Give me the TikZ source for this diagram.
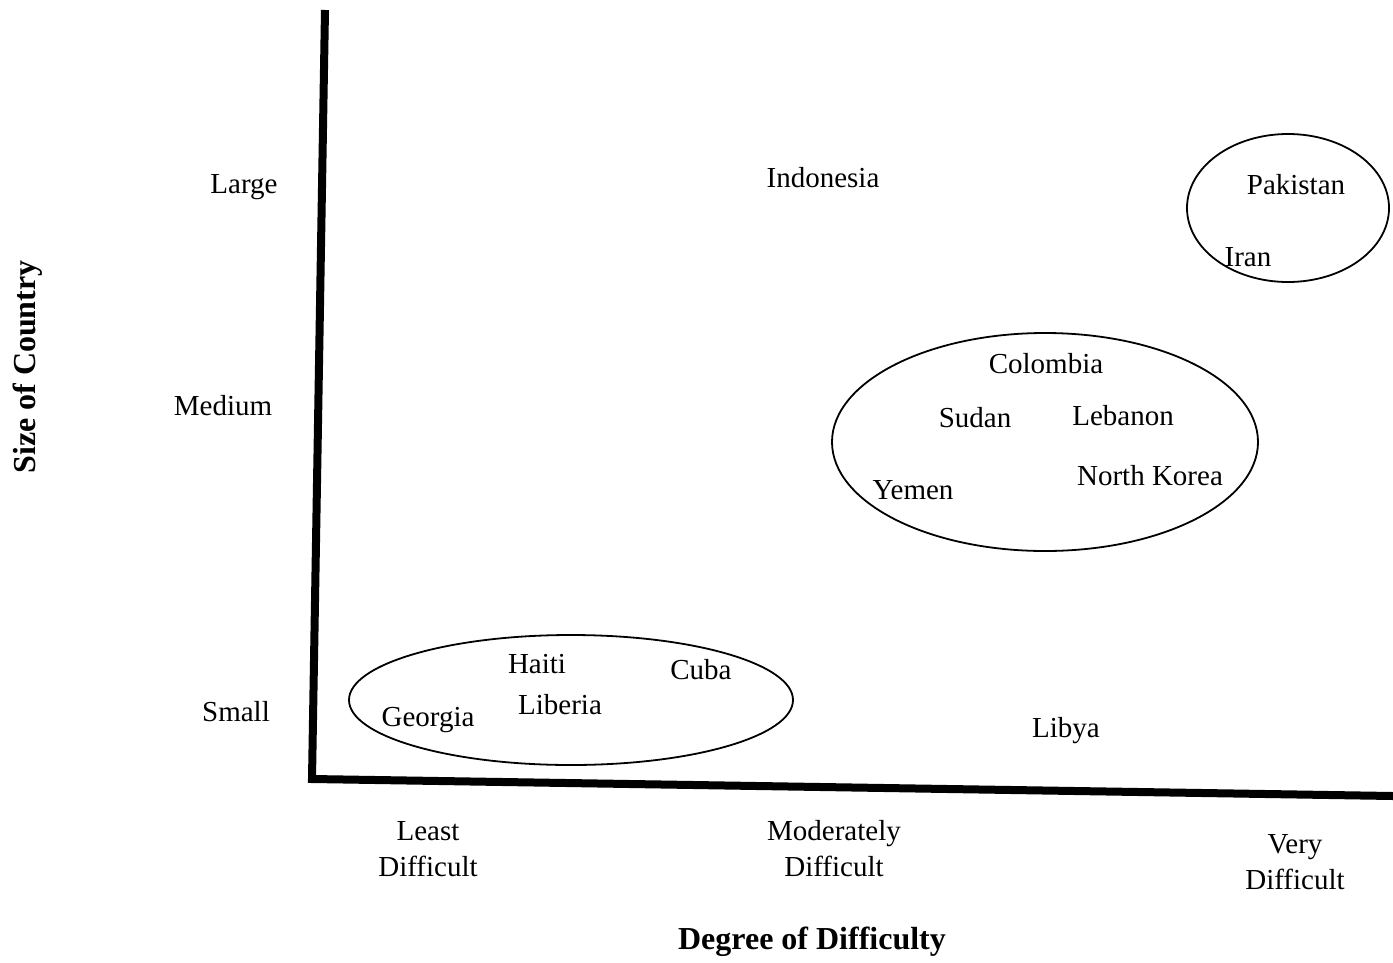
\documentclass[tikz,border=0pt]{standalone}
\usepackage{fontspec}
\setmainfont{Liberation Serif}
\usetikzlibrary{positioning}

\begin{document}
\begin{tikzpicture}[x=1pt, y=-1pt,
    lbl/.style={font=\fontsize{29}{36}\selectfont, inner sep=0pt, align=center},
    ttl/.style={font=\fontsize{32}{36}\selectfont\bfseries, inner sep=0pt},
    grp/.style={line width=1.8pt}]
\useasboundingbox (0,0) rectangle (1393,962);

\coordinate (top) at (325,10);
\coordinate (origin) at (312,779);
\coordinate (right) at (1393,796);
\draw [line width=8pt] (top) -- (origin) -- (right);

\node[lbl] (large) at (244,187) {Large};
\node[lbl] (medium) at (223,406) {Medium};
\node[lbl] (small) at (236,712) {Small};

\node[lbl] (least) at (428,849) {Least\\Difficult};
\node[lbl] (moderate) at (834,849) {Moderately\\Difficult};
\node[lbl] (very) at (1295,862) {Very\\Difficult};

\node[ttl] (xtitle) at (812,942) {Degree of Difficulty};
\node[ttl, rotate=90] (ytitle) at (28,367) {Size of Country};

\draw [grp] (571,700) ellipse [x radius=222, y radius=65];
\draw [grp] (1045,442) ellipse [x radius=213, y radius=109];
\draw [grp] (1288,208) ellipse [x radius=101, y radius=74];

\node[lbl] (indonesia) at (823,178) {Indonesia};
\node[lbl] (pakistan) at (1296,185) {Pakistan};
\node[lbl] (iran) at (1248,257) {Iran};
\node[lbl] (colombia) at (1046,364) {Colombia};
\node[lbl] (sudan) at (975,418) {Sudan};
\node[lbl] (lebanon) at (1123,416) {Lebanon};
\node[lbl] (yemen) at (913,490) {Yemen};
\node[lbl] (nkorea) at (1150,476) {North Korea};
\node[lbl] (haiti) at (537,664) {Haiti};
\node[lbl] (cuba) at (701,670) {Cuba};
\node[lbl] (georgia) at (428,720) {Georgia};
\node[lbl] (liberia) at (560,705) {Liberia};
\node[lbl] (libya) at (1066,731) {Libya};

\end{tikzpicture}
\end{document}
